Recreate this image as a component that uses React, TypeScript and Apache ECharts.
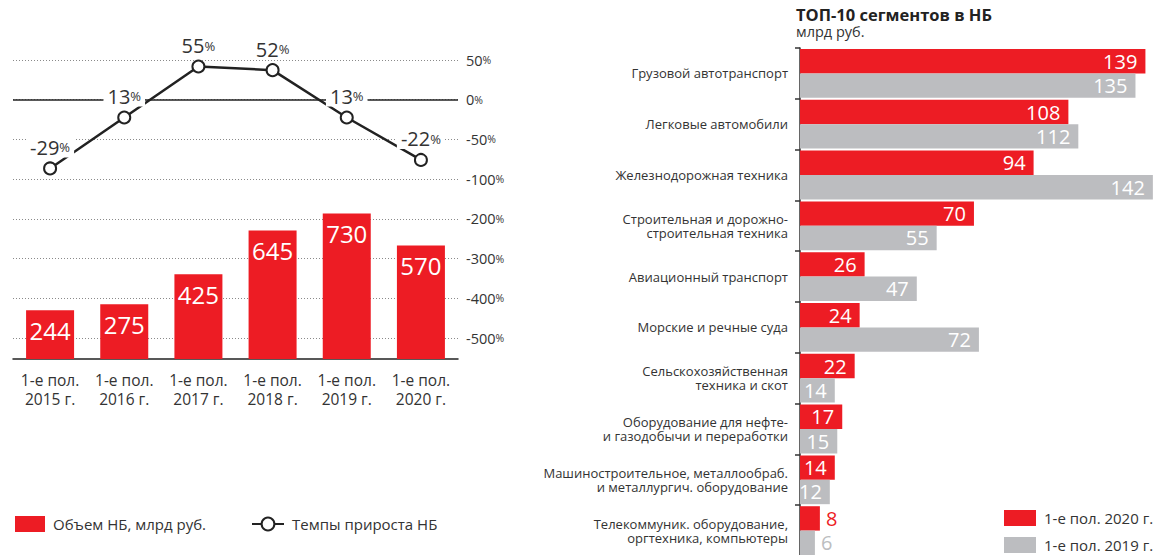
import React, { useEffect, useRef } from "react";
import * as echarts from "echarts";

const RED = "#ed1c24";
const GRAY = "#bcbdc0";
const DARK = "#222";
const TEXT = "#333";
const FONT = "'Open Sans', Roboto, sans-serif";

// Left chart data
const periods = [
  "1-е пол.\n2015 г.",
  "1-е пол.\n2016 г.",
  "1-е пол.\n2017 г.",
  "1-е пол.\n2018 г.",
  "1-е пол.\n2019 г.",
  "1-е пол.\n2020 г.",
];
const volumes = [244, 275, 425, 645, 730, 570];
const growth = [-29, 13, 55, 52, 13, -22];
const growthAxisLabels = ["50", "0", "-50", "-100", "-200", "-300", "-400", "-500"];

// Right chart data
const segments = [
  "Грузовой автотранспорт",
  "Легковые автомобили",
  "Железнодорожная техника",
  "Строительная и дорожно-\nстроительная техника",
  "Авиационный транспорт",
  "Морские и речные суда",
  "Сельскохозяйственная\nтехника и скот",
  "Оборудование для нефте-\nи газодобычи и переработки",
  "Машиностроительное, металлообраб.\nи металлургич. оборудование",
  "Телекоммуник. оборудование,\nоргтехника, компьютеры",
];
const values2020 = [139, 108, 94, 70, 26, 24, 22, 17, 14, 8];
const values2019 = [135, 112, 142, 55, 47, 72, 14, 15, 12, 6];

const S_VOL = "Объем НБ, млрд руб.";
const S_GROWTH = "Темпы прироста НБ";
const S_2020 = "1-е пол. 2020 г.";
const S_2019 = "1-е пол. 2019 г.";

export default function App() {
  const ref = useRef<HTMLDivElement>(null);

  useEffect(() => {
    if (!ref.current) return;
    const chart = echarts.init(ref.current, null, { renderer: "svg" });

    const barItems = (vals: number[], color: string) =>
      vals.map((v) => ({
        value: v,
        label: v < 10 ? { position: "right", color, distance: 6 } : undefined,
      }));

    const legendText = {
      fontSize: 15,
      lineHeight: 16,
      color: TEXT,
      fontFamily: FONT,
      padding: [0, 0, 0, 3],
    };

    const option: any = {
      animation: false,
      backgroundColor: "#fff",
      textStyle: { fontFamily: FONT },
      title: {
        left: 796,
        top: 6,
        padding: 0,
        text: "ТОП-10 сегментов в НБ",
        subtext: "млрд руб.",
        itemGap: 1,
        textStyle: { fontSize: 16.5, fontWeight: "bold", color: DARK, fontFamily: FONT },
        subtextStyle: { fontSize: 14.5, color: TEXT, fontFamily: FONT },
      },
      legend: [
        {
          left: 15,
          top: 516,
          padding: 0,
          itemWidth: 30,
          itemHeight: 16,
          data: [{ name: S_VOL, icon: "rect" }],
          textStyle: legendText,
        },
        {
          left: 251,
          top: 516,
          padding: 0,
          itemWidth: 32,
          itemHeight: 16,
          data: [{ name: S_GROWTH }],
          textStyle: legendText,
        },
        {
          left: 1004,
          top: 510,
          padding: 0,
          itemWidth: 32,
          itemHeight: 16,
          data: [{ name: S_2020, icon: "rect" }],
          textStyle: legendText,
        },
        {
          left: 1004,
          top: 537,
          padding: 0,
          itemWidth: 32,
          itemHeight: 16,
          data: [{ name: S_2019, icon: "rect" }],
          textStyle: legendText,
        },
      ],
      grid: [
        { left: 13, right: 718, top: 60, bottom: 196, outerBoundsMode: "none" },
        { left: 13, right: 718, top: 60, bottom: 217, outerBoundsMode: "none" },
        { left: 800, right: 3.25, top: 48, bottom: -1, outerBoundsMode: "none" },
      ],
      xAxis: [
        {
          gridIndex: 0,
          type: "category",
          data: periods,
          axisLine: { lineStyle: { color: DARK, width: 1.5 } },
          axisTick: { show: false },
          axisLabel: { interval: 0, fontSize: 15.5, lineHeight: 19, color: TEXT, margin: 11 },
        },
        { gridIndex: 1, type: "category", data: periods, show: false },
        { gridIndex: 2, type: "value", min: 0, max: 150, show: false },
      ],
      yAxis: [
        { gridIndex: 0, type: "value", min: 0, max: 1500, show: false },
        {
          gridIndex: 1,
          type: "category",
          data: growthAxisLabels,
          inverse: true,
          boundaryGap: false,
          position: "right",
          axisLine: { show: false },
          axisTick: { show: false },
          splitLine: {
            show: true,
            lineStyle: { color: "#8a8a8a", type: [1, 2], width: 1 },
          },
          axisLabel: {
            interval: 0,
            margin: 8,
            formatter: (v: string) => `{n|${v}}{p|%}`,
            rich: {
              n: { fontSize: 14.5, color: TEXT, fontFamily: FONT },
              p: { fontSize: 10.5, color: TEXT, fontFamily: FONT },
            },
          },
        },
        { gridIndex: 1, type: "value", min: -168.75, max: 60.37, show: false },
        {
          gridIndex: 2,
          type: "category",
          data: segments,
          inverse: true,
          axisLine: { lineStyle: { color: TEXT, width: 1.5 } },
          axisTick: { show: true, length: 5, lineStyle: { color: TEXT, width: 1.5 } },
          axisLabel: {
            interval: 0,
            fontSize: 13,
            lineHeight: 14,
            color: TEXT,
            margin: 12,
          },
        },
      ],
      series: [
        {
          name: S_VOL,
          type: "bar",
          xAxisIndex: 0,
          yAxisIndex: 0,
          data: volumes,
          barWidth: 48,
          itemStyle: { color: RED },
          label: {
            show: true,
            position: "insideTop",
            distance: 8,
            color: "#fff",
            fontSize: 24,
          },
        },
        {
          name: "zero",
          type: "line",
          xAxisIndex: 1,
          yAxisIndex: 1,
          data: [],
          z: 1,
          markLine: {
            silent: true,
            symbol: "none",
            label: { show: false },
            lineStyle: { color: DARK, type: "solid", width: 1.5 },
            data: [{ yAxis: growthAxisLabels.indexOf("0") }],
          },
        },
        {
          name: S_GROWTH,
          type: "line",
          xAxisIndex: 1,
          yAxisIndex: 2,
          data: growth,
          z: 5,
          symbol: "emptyCircle",
          symbolSize: 12,
          lineStyle: { color: DARK, width: 2.5 },
          itemStyle: { color: DARK, borderWidth: 2.5 },
          label: {
            show: true,
            position: "top",
            distance: 4,
            backgroundColor: "#fff",
            padding: [0, 4],
            formatter: (p: any) => `{v|${p.value}}{p|%}`,
            rich: {
              v: { fontSize: 20, color: TEXT, fontFamily: FONT },
              p: { fontSize: 13, color: TEXT, fontFamily: FONT },
            },
          },
        },
        {
          name: S_2020,
          type: "bar",
          xAxisIndex: 2,
          yAxisIndex: 3,
          data: barItems(values2020, RED),
          barGap: "0%",
          barCategoryGap: "4%",
          itemStyle: { color: RED },
          label: {
            show: true,
            position: "insideRight",
            distance: 8,
            color: "#fff",
            fontSize: 20,
          },
        },
        {
          name: S_2019,
          type: "bar",
          xAxisIndex: 2,
          yAxisIndex: 3,
          data: barItems(values2019, GRAY),
          barGap: "0%",
          barCategoryGap: "4%",
          itemStyle: { color: GRAY },
          label: {
            show: true,
            position: "insideRight",
            distance: 8,
            color: "#fff",
            fontSize: 20,
          },
        },
      ],
    };

    chart.setOption(option);
    return () => chart.dispose();
  }, []);

  return (
    <div
      ref={ref}
      style={{ position: "fixed", left: 0, top: 0, width: 1176, height: 555, background: "#fff" }}
    />
  );
}
